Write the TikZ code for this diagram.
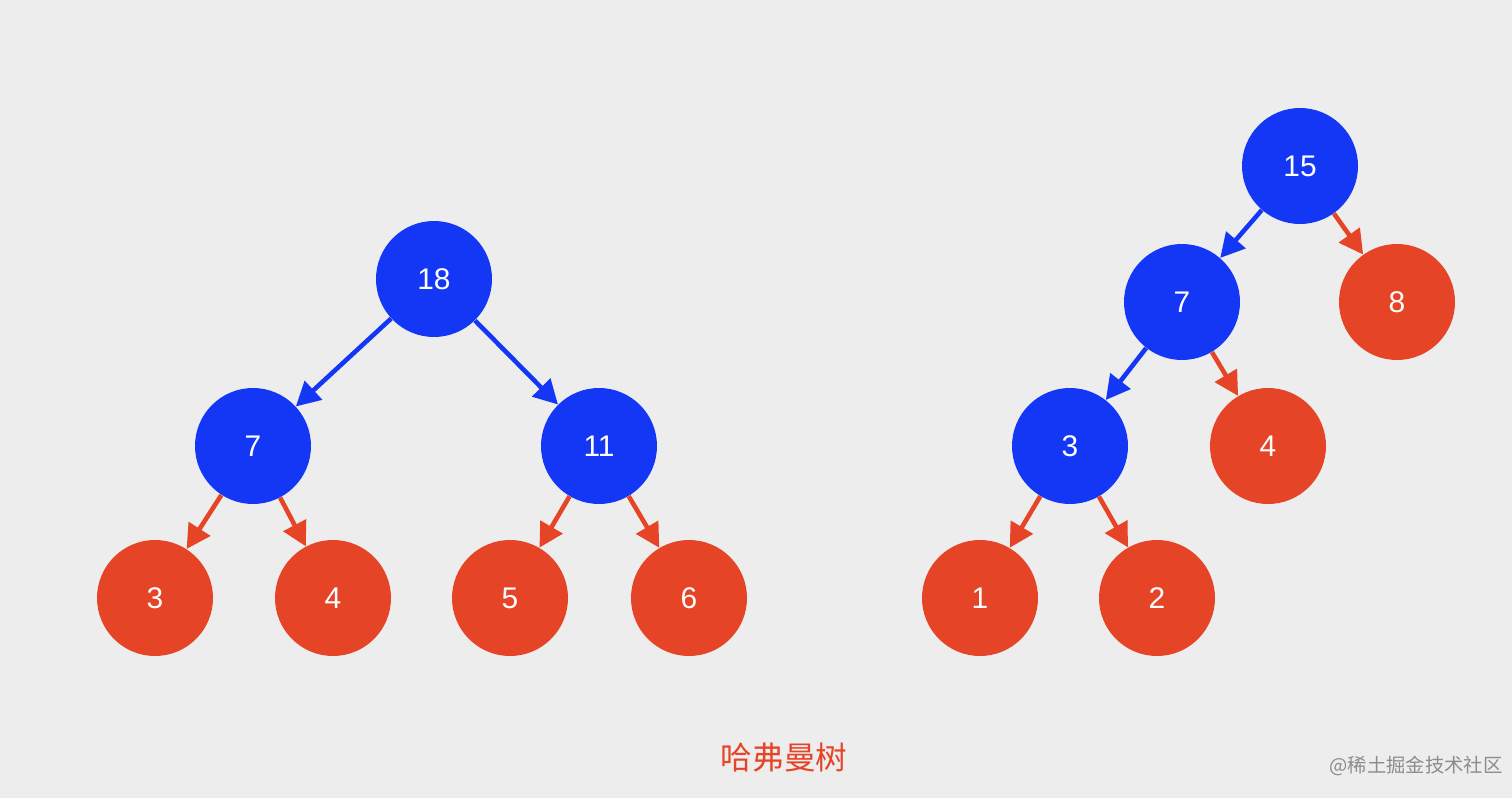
\documentclass[tikz,border=0pt]{standalone}
\usepackage{fontspec}
\setmainfont{Liberation Sans}
\newfontfamily\cjk{Noto Sans CJK SC}
\usetikzlibrary{arrows.meta}
\definecolor{huffBlue}{HTML}{1437F5}
\definecolor{huffRed}{HTML}{E54426}
\definecolor{huffBack}{HTML}{EDEDED}
\tikzstyle{innerNode}=[shape = circle, minimum size = 2.32cm, inner sep = 0pt, fill = huffBlue, text = white, font = \fontsize{17}{20}\selectfont]
\tikzstyle{leafNode}=[shape = circle, minimum size = 2.32cm, inner sep = 0pt, fill = huffRed, text = white, font = \fontsize{17}{20}\selectfont]

\begin{document}
\begin{tikzpicture}[x = 0.02cm, y = -0.02cm]
\tikzstyle{blueEdge}=[draw = huffBlue, line width = 2.6pt, -{Triangle[length = 0.48cm, width = 0.5cm]}]
\tikzstyle{redEdge}=[draw = huffRed, line width = 2.6pt, -{Triangle[length = 0.48cm, width = 0.5cm]}]
\fill[huffBack] (0,0) rectangle (1512,798);
% left tree
\node[innerNode] (a18) at (434,279) {18};
\node[innerNode] (a7) at (253,446) {7};
\node[innerNode] (a11) at (599,446) {11};
\node[leafNode] (a3) at (155,598) {3};
\node[leafNode] (a4) at (333,598) {4};
\node[leafNode] (a5) at (510,598) {5};
\node[leafNode] (a6) at (689,598) {6};
\draw[blueEdge] (a18) -- (a7);
\draw[blueEdge] (a18) -- (a11);
\draw[redEdge] (a7) -- (a3);
\draw[redEdge] (a7) -- (a4);
\draw[redEdge] (a11) -- (a5);
\draw[redEdge] (a11) -- (a6);
% right tree
\node[innerNode] (b15) at (1300,166) {15};
\node[innerNode] (b7) at (1182,302) {7};
\node[leafNode] (b8) at (1397,302) {8};
\node[innerNode] (b3) at (1070,446) {3};
\node[leafNode] (b4) at (1268,446) {4};
\node[leafNode] (b1) at (980,598) {1};
\node[leafNode] (b2) at (1157,598) {2};
\draw[blueEdge] (b15) -- (b7);
\draw[redEdge] (b15) -- (b8);
\draw[blueEdge] (b7) -- (b3);
\draw[redEdge] (b7) -- (b4);
\draw[redEdge] (b3) -- (b1);
\draw[redEdge] (b3) -- (b2);
% captions
\node[text = huffRed, font = \cjk\fontsize{18}{20}\selectfont] (title) at (784,758) {哈弗曼树};
\node[text = black!45, font = \cjk\fontsize{11}{13}\selectfont] (mark) at (1416,766) {@稀土掘金技术社区};
\end{tikzpicture}
\end{document}
